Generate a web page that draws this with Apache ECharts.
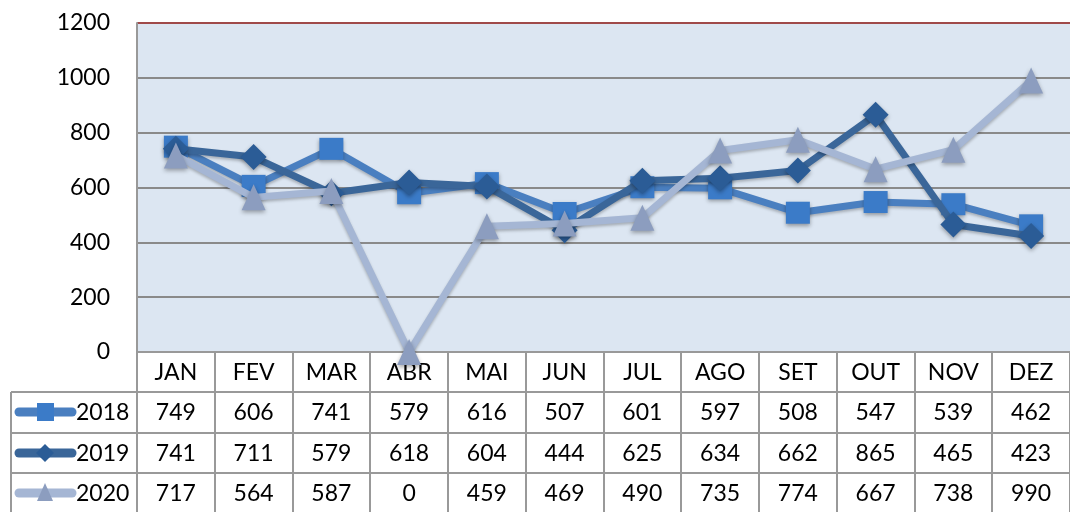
<!DOCTYPE html>
<html lang="en">
<head>
    <meta charset="UTF-8">
    <script src="https://cdn.jsdelivr.net/npm/echarts@6/dist/echarts.min.js"></script>
    <style>
        * { margin: 0; padding: 0; }
        body { background: #fff; }
        #chart { width: 1070px; height: 512px; }
    </style>
</head>
<body>
<div id="chart"></div>
<script>
    // data
    const months = ['JAN', 'FEV', 'MAR', 'ABR', 'MAI', 'JUN', 'JUL', 'AGO', 'SET', 'OUT', 'NOV', 'DEZ'];
    const years = ['2018', '2019', '2020'];
    const v2018 = [749, 606, 741, 579, 616, 507, 601, 597, 508, 547, 539, 462];
    const v2019 = [741, 711, 579, 618, 604, 444, 625, 634, 662, 865, 465, 423];
    const v2020 = [717, 564, 587, 0, 459, 469, 490, 735, 774, 667, 738, 990];

    const FONT = 'Lato, "Noto Sans", sans-serif';
    const FS = 23;
    const lineColors = ['#4a7fc0', '#3a6699', '#a5b6d4'];
    const markColors = ['#3b7bc8', '#2b5c96', '#8c9dbf'];
    const symbols = ['rect', 'diamond', 'triangle'];
    const symSizes = [[24, 22], [26, 26], [24, 26]];
    const allValues = [v2018, v2019, v2020];

    const myChart = echarts.init(document.getElementById('chart'));

    const option = {
        animation: false,
        grid: {
            left: 137, right: 0, top: 23, bottom: 160,
            show: true, backgroundColor: '#dce6f2', borderWidth: 0
        },
        xAxis: {
            type: 'category',
            data: months,
            boundaryGap: true,
            axisLine: {lineStyle: {color: '#999', width: 2}},
            axisTick: {show: false},
            axisLabel: {color: '#000', fontSize: FS, fontFamily: FONT, margin: 9}
        },
        yAxis: {
            type: 'value',
            min: 0, max: 1200, interval: 200,
            axisLine: {show: true, lineStyle: {color: '#999', width: 2}},
            axisTick: {show: false},
            axisLabel: {color: '#000', fontSize: FS, fontFamily: FONT, margin: 27,
                formatter: v => String(v)},
            splitLine: {
                lineStyle: {
                    width: 2,
                    color: ['#8a8a8a', '#8a8a8a', '#8a8a8a', '#8a8a8a', '#8a8a8a', '#8a8a8a', '#a04a4a']
                }
            }
        },
        series: years.map((y, i) => ({
            name: y,
            type: 'line',
            data: allValues[i],
            symbol: symbols[i],
            symbolSize: symSizes[i],
            z: 2 + i,
            lineStyle: {
                width: 7, color: lineColors[i],
                shadowBlur: 3, shadowColor: 'rgba(0,0,0,0.25)', shadowOffsetY: 2
            },
            itemStyle: {
                color: markColors[i], borderWidth: 0,
                shadowBlur: 4, shadowColor: 'rgba(0,0,0,0.35)', shadowOffsetY: 2
            }
        }))
    };

    myChart.setOption(option);

    // data table under the plot
    const x0 = myChart.convertToPixel({xAxisIndex: 0}, 0);
    const step = myChart.convertToPixel({xAxisIndex: 0}, 1) - x0;
    const left = x0 - step / 2;
    const yTop = 352, rowTops = [392, 433, 473], rowH = 40, yEnd = 512;
    const border = {stroke: '#999', lineWidth: 2};
    const els = [];

    for (let k = 0; k <= months.length; k++) {
        const x = Math.round(left + k * step);
        els.push({type: 'line', shape: {x1: x, y1: yTop, x2: x, y2: yEnd}, style: border});
    }
    els.push({type: 'line', shape: {x1: 11, y1: rowTops[0], x2: 11, y2: yEnd}, style: border});
    rowTops.forEach(t => {
        els.push({type: 'line', shape: {x1: 11, y1: t, x2: 1070, y2: t}, style: border});
    });

    years.forEach((y, i) => {
        const cy = rowTops[i] + rowH / 2;
        // legend key
        els.push({type: 'line', shape: {x1: 19, y1: cy, x2: 72, y2: cy},
            style: {stroke: lineColors[i], lineWidth: 9, lineCap: 'round'}});
        let marker;
        if (i === 0) {
            marker = {type: 'rect', shape: {x: 37, y: cy - 9, width: 17, height: 18}};
        } else if (i === 1) {
            marker = {type: 'polygon', shape: {points: [[45, cy - 9], [54, cy], [45, cy + 9], [36, cy]]}};
        } else {
            marker = {type: 'polygon', shape: {points: [[45, cy - 10], [53, cy + 8], [37, cy + 8]]}};
        }
        marker.style = {fill: markColors[i]};
        els.push(marker);
        els.push({type: 'text', x: 76, y: cy + 1,
            style: {text: y, fontSize: FS, fontFamily: FONT, fill: '#000', align: 'left', verticalAlign: 'middle'}});

        allValues[i].forEach((v, j) => {
            els.push({type: 'text', x: left + (j + 0.5) * step, y: cy + 1,
                style: {text: String(v), fontSize: FS, fontFamily: FONT, fill: '#000',
                    align: 'center', verticalAlign: 'middle'}});
        });
    });

    myChart.setOption({graphic: els});
</script>
</body>
</html>
